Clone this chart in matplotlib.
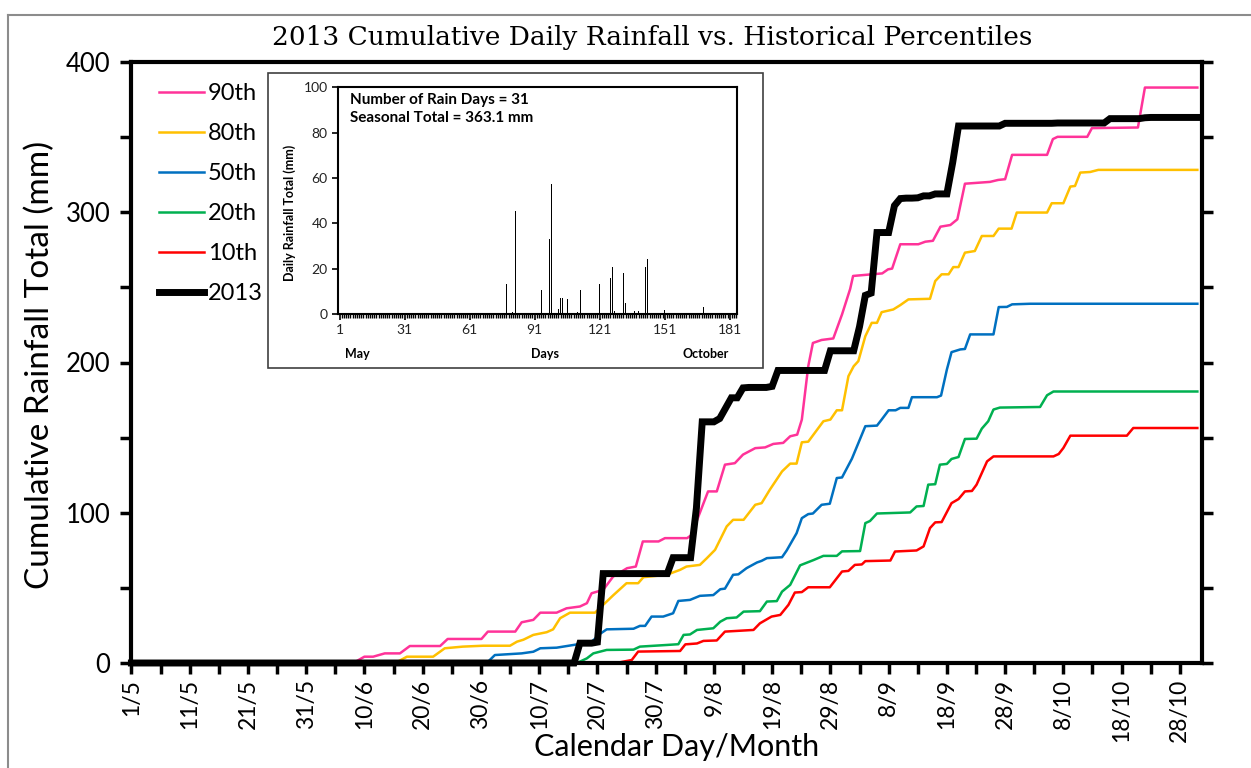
import matplotlib
matplotlib.use("Agg")
import matplotlib.pyplot as plt
import numpy as np
from matplotlib.lines import Line2D
from matplotlib.patches import Rectangle

plt.rcParams['font.family'] = ['Lato', 'DejaVu Sans']

# Historical percentile curves: (days since 1 May, cumulative rainfall mm)
p90 = [(0, 0), (38.1, 0), (40.0, 4.2), (41.5, 4.2), (43.5, 6.4), (46.1, 6.4), (47.8, 11.3), (53.0, 11.3),
       (54.3, 16.0), (60.1, 16.0), (61.2, 20.9), (65.9, 20.9), (67.0, 27.1), (69.0, 28.7), (70.2, 33.5),
       (73.0, 33.5), (74.7, 36.4), (77.0, 37.6), (78.2, 39.8), (79.0, 46.4), (81.0, 48.7), (82.7, 57.5),
       (85.1, 63.1), (86.6, 64.2), (87.8, 80.9), (90.5, 80.9), (91.6, 83.1), (95.4, 83.1), (96.2, 85.3),
       (96.6, 87.0), (97.1, 95.0), (99.0, 114.2), (100.5, 114.2), (101.9, 132.0), (103.6, 133.0),
       (105.0, 138.7), (107.1, 143.0), (108.8, 143.5), (110.2, 145.8), (111.9, 146.5), (113.1, 150.9),
       (114.3, 152.0), (115.1, 162.0), (116.2, 197.5), (117.0, 213.0), (118.5, 215.0), (120.5, 216.0),
       (122.0, 232.0), (123.4, 249.0), (123.9, 257.6), (128.9, 259.3), (129.9, 262.0), (130.6, 262.5),
       (132.0, 278.7), (135.1, 278.7), (136.3, 280.4), (137.6, 281.0), (138.9, 290.4), (140.6, 291.5),
       (141.8, 295.3), (143.1, 319.0), (147.4, 320.2), (148.8, 321.5), (150.0, 322.0), (151.2, 338.2),
       (157.2, 338.2), (158.2, 348.7), (159.0, 350.2), (164.1, 350.2), (164.9, 356.0), (172.8, 356.4),
       (174.0, 383.0), (183.0, 383.0)]
p80 = [(0, 0), (45.3, 0), (47.3, 4.2), (51.8, 4.2), (53.8, 9.8), (56.9, 10.9), (60.4, 11.5), (65.0, 11.5),
       (66.2, 14.2), (67.3, 15.5), (69.0, 18.7), (71.3, 20.5), (72.4, 22.4), (73.6, 29.8), (75.3, 33.5),
       (79.6, 33.5), (81.0, 38.7), (82.7, 45.0), (85.0, 53.1), (87.0, 53.1), (87.9, 57.1), (91.9, 58.7),
       (94.2, 62.0), (95.3, 64.2), (97.6, 65.3), (98.8, 69.8), (100.2, 75.3), (102.2, 90.9), (103.3, 95.3),
       (105.1, 95.3), (107.1, 105.3), (108.2, 106.4), (109.6, 115.3), (111.7, 127.5), (113.1, 132.7),
       (114.2, 132.7), (115.1, 146.9), (116.2, 147.3), (118.8, 160.9), (120.0, 162.0), (121.1, 168.2),
       (122.0, 168.2), (123.1, 190.9), (124.0, 197.5), (124.8, 200.9), (126.0, 217.5), (127.1, 226.4),
       (128.0, 226.4), (128.8, 233.5), (130.8, 235.3), (132.0, 238.2), (133.4, 242.0), (137.1, 242.4),
       (138.0, 254.2), (139.1, 258.7), (140.3, 258.7), (141.1, 263.5), (142.0, 263.5), (143.1, 273.1),
       (144.8, 274.2), (146.0, 284.2), (148.0, 284.2), (148.9, 289.1), (151.1, 289.1), (152.0, 299.8),
       (157.2, 299.8), (158.0, 306.0), (160.0, 306.0), (161.2, 317.1), (162.0, 317.5), (162.9, 326.4),
       (164.6, 326.8), (166.0, 328.2), (183.0, 328.2)]
p50 = [(0, 0), (61.0, 0), (62.4, 5.3), (67.0, 6.4), (69.0, 7.5), (70.2, 9.8), (73.0, 10.2), (75.9, 12.0),
       (79.0, 14.0), (80.5, 19.5), (81.6, 22.4), (86.2, 22.8), (87.3, 24.7), (88.2, 24.7), (89.3, 30.9),
       (91.3, 30.9), (93.0, 33.1), (93.9, 41.3), (95.9, 42.0), (97.6, 44.7), (99.9, 45.2), (101.1, 49.1),
       (101.9, 49.5), (103.3, 58.7), (104.2, 59.0), (105.6, 63.1), (107.4, 66.9), (108.2, 68.0),
       (109.1, 69.8), (111.7, 70.4), (112.5, 74.9), (114.2, 86.4), (115.1, 96.4), (116.2, 99.1),
       (117.0, 99.5), (118.5, 105.3), (119.9, 106.0), (121.1, 123.1), (122.0, 123.5), (123.7, 136.0),
       (126.0, 157.6), (128.0, 158.0), (128.8, 162.0), (130.0, 168.2), (131.2, 168.2), (132.0, 169.8),
       (133.4, 169.8), (134.0, 176.9), (138.3, 176.9), (139.0, 178.0), (140.0, 195.3), (140.8, 206.9),
       (142.3, 208.7), (143.1, 209.0), (144.0, 218.7), (148.0, 218.7), (148.9, 236.9), (150.3, 237.0),
       (151.2, 238.7), (154.3, 239.1), (183.0, 239.1)]
p20 = [(0, 0), (76.5, 0), (78.2, 3.1), (79.3, 6.4), (81.6, 8.7), (86.2, 8.9), (87.3, 10.9), (91.9, 12.0),
       (93.9, 12.5), (94.8, 18.7), (95.9, 19.0), (97.1, 22.0), (99.9, 23.1), (101.1, 27.5), (102.2, 29.8),
       (103.9, 30.3), (105.1, 34.2), (107.9, 34.5), (109.1, 40.9), (110.8, 41.2), (111.7, 47.5),
       (113.1, 52.0), (114.8, 65.0), (117.1, 68.5), (118.8, 71.3), (121.1, 71.3), (122.0, 74.3),
       (125.1, 74.5), (126.0, 93.1), (126.8, 94.5), (128.0, 99.5), (133.7, 100.2), (134.8, 104.2),
       (136.0, 104.5), (136.8, 118.7), (138.0, 119.0), (138.8, 132.0), (140.0, 132.5), (140.8, 135.8),
       (142.0, 137.1), (143.1, 149.1), (145.1, 149.3), (146.0, 156.0), (147.1, 160.9), (148.0, 168.7),
       (149.1, 170.0), (156.0, 170.4), (157.2, 178.2), (158.3, 180.7), (183.0, 180.7)]
p10 = [(0, 0), (76.5, 0), (83.9, 0.5), (85.9, 2.0), (87.0, 7.6), (94.2, 8.0), (95.1, 12.4), (97.1, 13.0),
       (98.2, 14.7), (100.5, 15.0), (101.9, 20.9), (106.8, 22.0), (107.9, 26.4), (109.9, 30.9),
       (111.4, 32.0), (112.8, 38.7), (113.9, 46.9), (115.1, 47.2), (116.2, 50.4), (119.9, 50.4),
       (122.0, 60.9), (123.1, 61.3), (124.2, 65.3), (125.4, 65.6), (126.0, 67.8), (130.3, 68.2),
       (131.1, 74.2), (134.8, 74.9), (136.0, 77.6), (137.1, 89.8), (138.0, 93.6), (139.1, 93.8),
       (140.8, 106.4), (142.0, 109.1), (143.1, 114.2), (144.3, 114.5), (145.1, 118.7), (146.9, 134.2),
       (148.0, 137.5), (158.3, 137.5), (159.2, 139.1), (160.0, 143.1), (161.2, 151.3), (170.9, 151.3),
       (172.0, 156.4), (183.0, 156.4)]

# 2013 daily rainfall (day of season, 1 = 1 May) and amount (mm)
rain_day = [78, 81, 82, 94, 98, 99, 102, 103, 104, 106, 107, 111, 112, 121, 126, 127, 128, 129,
            132, 133, 134, 136, 137, 139, 142, 143, 151, 160, 169, 175, 176]
rain_mm = [13.2, 0.7, 45.6, 10.6, 33.0, 57.4, 2.2, 6.9, 6.9, 6.6, 0.3, 0.7, 10.6, 13.1, 16.0, 20.9,
           1.5, 40.3, 17.9, 4.7, 0.3, 0.2, 1.3, 1.3, 20.9, 24.3, 1.8, 0.2, 2.9, 0.6, 0.2]
n_days = 184

date_labels = ['1/5', '11/5', '21/5', '31/5', '10/6', '20/6', '30/6', '10/7', '20/7', '30/7',
               '9/8', '19/8', '29/8', '8/9', '18/9', '28/9', '8/10', '18/10', '28/10']
series = [('90th', p90, '#FF3399'), ('80th', p80, '#FFC000'), ('50th', p50, '#0070C0'),
          ('20th', p20, '#00B050'), ('10th', p10, '#FF0000')]

W, H = 1251, 768
fig = plt.figure(figsize=(W / 100, H / 100), dpi=100)

# main axes
ax = fig.add_axes([131.4 / W, 1 - 663 / H, (1202 - 131.4) / W, (663 - 62) / H])
handles = []
for name, pts, col in series:
    pts = np.array(pts)
    ln, = ax.plot(pts[:, 0], pts[:, 1], color=col, lw=1.8, label=name)
    handles.append(ln)

daily = np.zeros(n_days)
daily[np.array(rain_day) - 1] = rain_mm
cum = np.cumsum(daily)
ln, = ax.plot(np.arange(n_days), cum, color='black', lw=5, label='2013',
              solid_joinstyle='miter', clip_on=False, zorder=5)
handles.append(ln)

ax.set_xlim(0, 183.8)
ax.set_ylim(0, 400)
ax.set_xticks(np.arange(0, 181, 10))
ax.set_xticks(np.arange(5, 181, 10), minor=True)
ax.set_xticklabels(date_labels, rotation=90, fontsize=16.5)
ax.set_yticks(np.arange(0, 401, 100))
ax.set_yticks(np.arange(50, 400, 100), minor=True)
ax.tick_params(axis='y', labelsize=18.5, pad=7)
ax.tick_params(axis='both', which='both', direction='out', length=8, width=2.5, color='black')
ax.tick_params(axis='y', which='both', right=True, direction='out')
for s in ax.spines.values():
    s.set_linewidth(3)
    s.set_color('black')

leg = ax.legend(handles=handles, loc='upper left', bbox_to_anchor=(150 / W, 1 - 74 / H),
                bbox_transform=fig.transFigure, frameon=False, fontsize=17,
                handlelength=1.9, handletextpad=0.15, labelspacing=0.8, borderaxespad=0)

fig.text(40 / W, 1 - 365 / H, 'Cumulative Rainfall Total (mm)', rotation=90,
         ha='center', va='center', fontsize=24)
fig.text(677 / W, 1 - 747 / H, 'Calendar Day/Month', ha='center', va='center', fontsize=22)
fig.text(652 / W, 1 - 38 / H, '2013 Cumulative Daily Rainfall vs. Historical Percentiles',
         ha='center', va='center', fontsize=19, family='DejaVu Serif')

# inset frame and inset axes
fig.add_artist(Rectangle((268 / W, 1 - 368 / H), (763 - 268) / W, (368 - 73) / H,
                         transform=fig.transFigure, facecolor='white', edgecolor='#404040',
                         lw=1.2, zorder=2))
axi = fig.add_axes([338 / W, 1 - 314 / H, (737.3 - 338) / W, (314 - 87.3) / H], zorder=3)
axi.bar(rain_day, rain_mm, width=0.45, color='black')
axi.set_xlim(0.3, 184.5)
axi.set_ylim(0, 100)
axi.set_xticks(np.arange(1, 182, 30))
axi.set_xticks(np.arange(1, 185), minor=True)
axi.set_yticks(np.arange(0, 101, 20))
axi.tick_params(axis='both', which='major', labelsize=10, labelcolor='#222222', length=4, width=1.2)
axi.tick_params(axis='x', which='minor', length=3, width=1.0)
for s in axi.spines.values():
    s.set_linewidth(1.5)
trans = axi.get_xaxis_transform()
axi.text(9.2, -0.175, 'May', transform=trans, ha='center', va='center', fontsize=9, fontweight='bold')
axi.text(95.6, -0.175, 'Days', transform=trans, ha='center', va='center', fontsize=9, fontweight='bold')
axi.text(170, -0.175, 'October', transform=trans, ha='center', va='center', fontsize=9, fontweight='bold')
axi.text(0.029, 0.975, 'Number of Rain Days = 31\nSeasonal Total = 363.1 mm', transform=axi.transAxes,
         ha='left', va='top', fontsize=11, fontweight='bold', linespacing=1.35)
fig.text(289.7 / W, 1 - 212.5 / H, 'Daily Rainfall Total (mm)', rotation=90, ha='center', va='center',
         fontsize=9, fontweight='bold', zorder=4)

# outer chart border
fig.add_artist(Line2D([8 / W, 8 / W], [0, 1 - 15 / H], color='#8c8c8c', lw=1.5))
fig.add_artist(Line2D([8 / W, 1], [1 - 15 / H, 1 - 15 / H], color='#8c8c8c', lw=1.5))

fig.savefig('out.png', dpi=100)
